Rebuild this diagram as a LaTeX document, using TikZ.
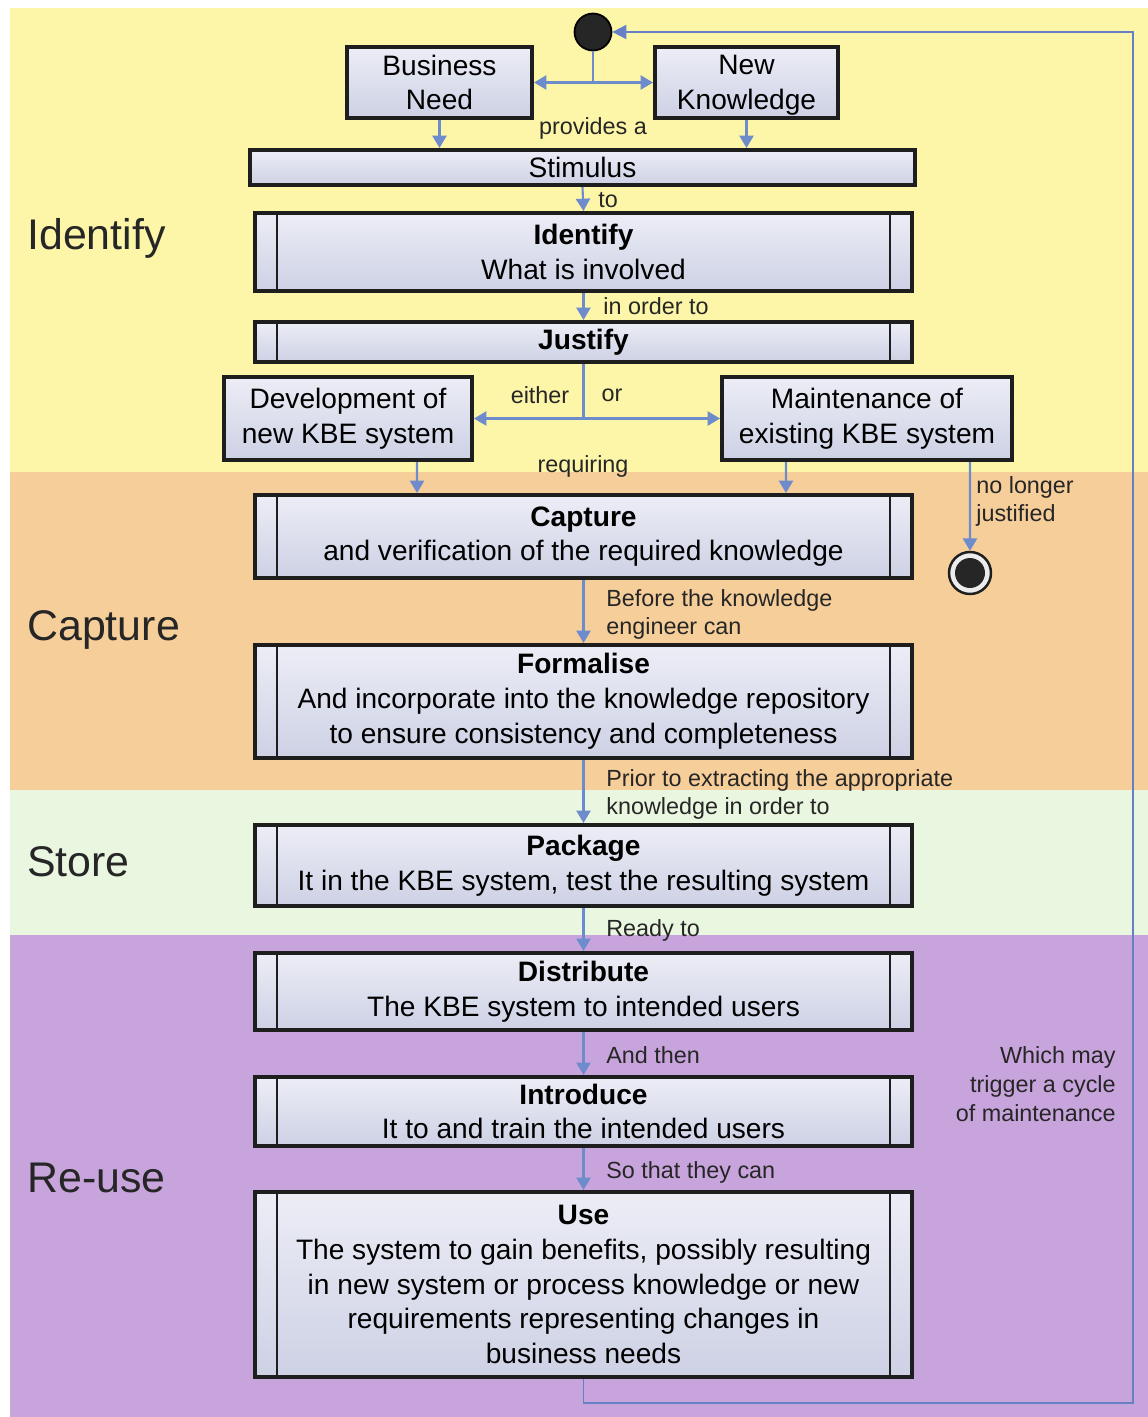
\documentclass[tikz,border=0pt]{standalone}
\usepackage{fontspec}
\setmainfont{Liberation Sans}
\usetikzlibrary{arrows.meta,calc}

\definecolor{bandY}{HTML}{FDF6A8}
\definecolor{bandO}{HTML}{F6CE9A}
\definecolor{bandG}{HTML}{EAF7E0}
\definecolor{bandP}{HTML}{C8A4DC}
\definecolor{boxtop}{HTML}{ECEDF6}
\definecolor{boxbot}{HTML}{CDD1E4}
\definecolor{boxline}{HTML}{1E1E1E}
\definecolor{flowblue}{HTML}{6E8BCB}
\definecolor{loopblue}{HTML}{6580C4}
\definecolor{dotfill}{HTML}{262626}

\newcommand\bxfont{\fontsize{16}{19.8}\selectfont}
\newcommand\lblfont{\fontsize{13.3}{16.4}\selectfont}
\newcommand\sidefont{\fontsize{24.4}{28}\selectfont}
% a line of text whose descenders do not count for centring
\newcommand\nodepth[1]{\raisebox{0pt}[\height][0pt]{#1}}

\begin{document}
\begin{tikzpicture}[x=0.02cm,y=-0.02cm,
  box/.style={draw=boxline, line width=2.3pt, rectangle, inner sep=0pt,
    top color=boxtop, bottom color=boxbot, align=center, font=\bxfont},
  proc/.style={box, path picture={
    \draw[line width=1.6pt, boxline]
      ([xshift=0.44cm]path picture bounding box.north west) --
      ([xshift=0.44cm]path picture bounding box.south west);
    \draw[line width=1.6pt, boxline]
      ([xshift=-0.44cm]path picture bounding box.north east) --
      ([xshift=-0.44cm]path picture bounding box.south east);}},
  wide/.style={minimum width=13.14cm},
  flow/.style={draw=flowblue, line width=1.2pt, -{Triangle[width=8pt,length=7pt]}},
  plainflow/.style={draw=flowblue, line width=1.2pt},
  loopflow/.style={draw=loopblue, line width=1.1pt, -{Triangle[width=8pt,length=8pt]}},
  lbl/.style={font=\lblfont, text=black!85, inner sep=0pt, align=left},
  side/.style={font=\sidefont, text=black!85, inner sep=0pt, anchor=west},
  startdot/.style={circle, draw=black, line width=1pt, fill=dotfill, minimum size=0.74cm, inner sep=0pt},
  enddot/.style={circle, draw=boxline, line width=1.4pt, fill=gray!15, minimum size=0.84cm, inner sep=0pt,
    path picture={\fill[dotfill] (path picture bounding box.center) circle (0.3cm);}}
]
\useasboundingbox (0,0) rectangle (1148,1417);

% swim-lane bands
\fill[white] (0,0) rectangle (1148,1417);
\fill[bandY] (10,8) rectangle (1148,472);
\fill[bandO] (10,472) rectangle (1148,790);
\fill[bandG] (10,790) rectangle (1148,935);
\fill[bandP] (10,935) rectangle (1148,1417);

% lane titles
\node[side] (tIdentify) at (27,238) {Identify};
\node[side] (tCapture) at (27,630) {Capture};
\node[side] (tStore) at (27,862) {Store};
\node[side] (tReuse) at (27,1178) {Re-use};

% initial and final states
\node[startdot] (start) at (593,32) {};
\node[enddot] (end) at (970,573) {};

% activities
\node[box, minimum width=3.70cm, minimum height=1.42cm] (bn) at (439.5,82.5) {Business\\Need};
\node[box, minimum width=3.66cm, minimum height=1.42cm] (nk) at (746.5,82.5) {New\\\nodepth{Knowledge}};
\node[box, minimum width=13.3cm, minimum height=0.70cm] (stim) at (582.5,167.5) {Stimulus};
\node[proc, wide, minimum height=1.56cm] (ident) at (583.5,252) {\textbf{Identify}\\What is involved};
\node[proc, wide, minimum height=0.80cm] (just) at (583.5,342) {\textbf{Justify}};
\node[box, minimum width=4.96cm, minimum height=1.66cm] (dev) at (348,418.5) {Development of\\new KBE system};
\node[box, minimum width=5.80cm, minimum height=1.66cm] (mnt) at (867,418.5) {Maintenance of\\existing KBE system};
\node[proc, wide, minimum height=1.66cm] (capt) at (583.5,536.5) {\textbf{Capture}\\and verification of the required knowledge};
\node[proc, wide, minimum height=2.26cm] (form) at (583.5,701.5) {\textbf{Formalise}\\And incorporate into the knowledge repository\\to ensure consistency and completeness};
\node[proc, wide, minimum height=1.62cm] (pack) at (583.5,865.5) {\textbf{Package}\\It in the KBE system, test the resulting system};
\node[proc, wide, minimum height=1.54cm] (dist) at (583.5,991.5) {\textbf{Distribute}\\The KBE system to intended users};
\node[proc, wide, minimum height=1.38cm] (intro) at (583.5,1111.5) {\textbf{Introduce}\\It to and train the intended users};
\node[proc, wide, minimum height=3.70cm] (use) at (583.5,1284.5) {\textbf{Use}\\The system to gain benefits, possibly resulting\\in new system or process knowledge or new\\requirements representing changes in\\business needs};

% fork below the initial state
\coordinate (fork) at (593,82.5);
\draw[plainflow] (start) -- (fork);
\draw[flow] (fork) -- (bn.east);
\draw[flow] (fork) -- (nk.west);
\draw[flow] (bn.south) -- (bn.south |- stim.north);
\draw[flow] (nk.south) -- (nk.south |- stim.north);
\node[lbl] (lProv) at (593,128) {provides a};

\draw[flow] (stim.south) -- (ident.north);
\node[lbl, anchor=west] (lTo) at (598,200) {to};
\draw[flow] (ident.south) -- (just.north);
\node[lbl, anchor=west] (lOrder) at (603,306) {in order to};

% either / or split
\coordinate (split) at (583.5,418.5);
\draw[plainflow] (just.south) -- (split);
\draw[flow] (split) -- (dev.east);
\draw[flow] (split) -- (mnt.west);
\node[lbl] (lEither) at (540,395) {either};
\node[lbl] (lOr) at (612,395) {or};
\node[lbl] (lReq) at (583,466) {requiring};

\draw[flow] ([xshift=1.38cm]dev.south) -- ([xshift=-3.33cm]capt.north);
\draw[flow] ([xshift=-1.62cm]mnt.south) -- ([xshift=4.05cm]capt.north);
\draw[flow] ([xshift=2.06cm]mnt.south) -- (end.north);
\node[lbl, anchor=west] (lNo) at (976,501.5) {no longer\\justified};

% main sequence
\draw[flow] (capt.south) -- (form.north);
\node[lbl, anchor=west] (lBefore) at (606,614.5) {Before the knowledge\\engineer can};
\draw[flow] (form.south) -- (pack.north);
\node[lbl, anchor=west] (lPrior) at (606,794.5) {Prior to extracting the appropriate\\knowledge in order to};
\draw[flow] (pack.south) -- (dist.north);
\node[lbl, anchor=west] (lReady) at (606,930) {Ready to};
\draw[flow] (dist.south) -- (intro.north);
\node[lbl, anchor=west] (lThen) at (606,1055) {And then};
\draw[flow] (intro.south) -- (use.north);
\node[lbl, anchor=west] (lSo) at (606,1172) {So that they can};

% maintenance cycle back to the start
\coordinate (loopB) at (1133,1403);
\draw[loopflow] (use.south) |- (loopB) |- (start.east);
\node[lbl, anchor=east, align=right] (lCycle) at (1116,1084) {Which may\\trigger a cycle\\of maintenance};
\end{tikzpicture}
\end{document}
